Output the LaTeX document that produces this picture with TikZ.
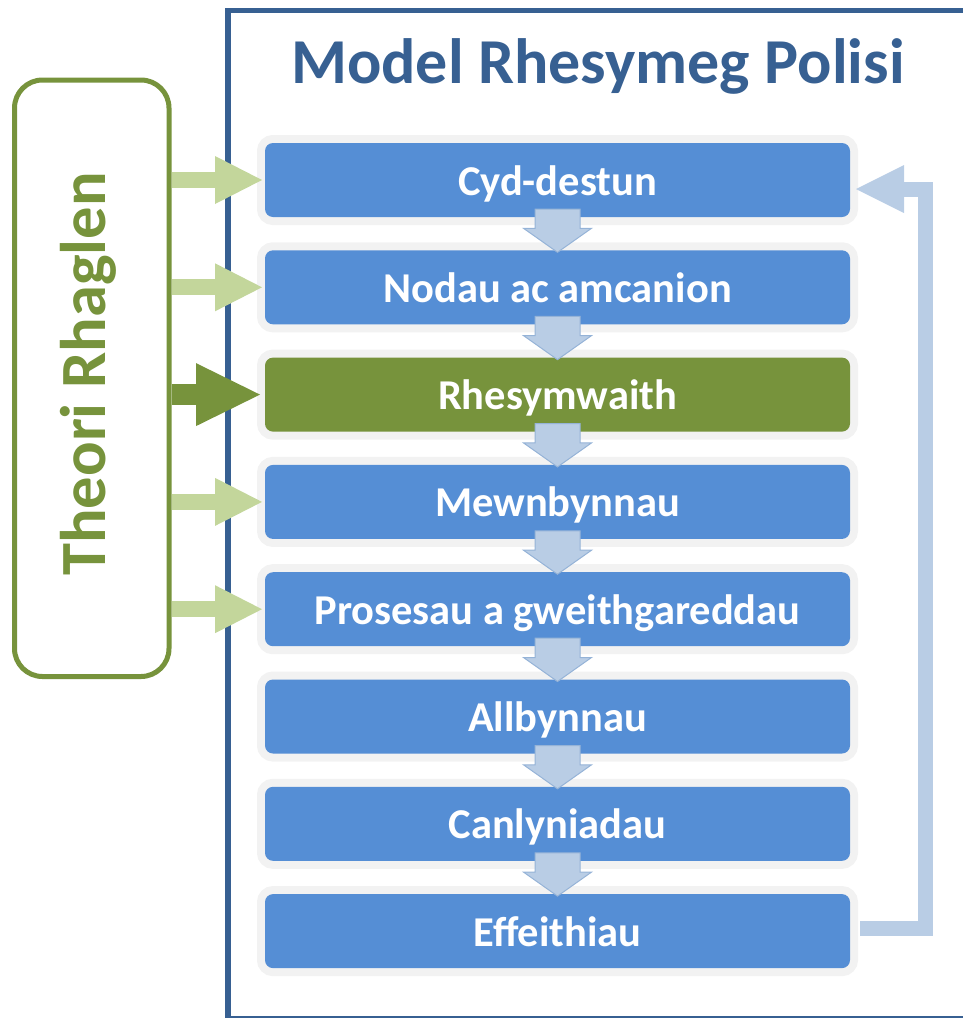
\documentclass[tikz,border=0pt]{standalone}
\usepackage{fontspec}
\setmainfont{Carlito}
\usetikzlibrary{arrows.meta,calc}

\definecolor{frameblue}{HTML}{376092}
\definecolor{stageblue}{HTML}{558ED5}
\definecolor{stagegreen}{HTML}{77933C}
\definecolor{feedgreen}{HTML}{C3D69B}
\definecolor{stagerim}{HTML}{F2F2F2}
\definecolor{flowfill}{HTML}{B9CDE5}
\definecolor{flowedge}{HTML}{95B3D7}

\begin{document}
\begin{tikzpicture}[x=1pt,y=-1pt]
\tikzset{ >=latex, inner sep=0pt, outer sep=0pt,
  stage/.style={fill=stageblue, rounded corners=8pt, minimum width=585pt, minimum height=74pt,
    preaction={draw=stagerim, line width=16pt, rounded corners=8pt},
    text height=30pt, text depth=0pt,
    text=white, font=\fontsize{42.5}{50}\selectfont\bfseries},
  feed/.style={line width=16pt, feedgreen, -{Triangle[length=47pt,width=48pt,line width=0pt]}},
  feedmain/.style={line width=21pt, stagegreen, -{Triangle[length=64pt,width=63pt,line width=0pt]}},
  stepdown/.style={fill=flowfill, draw=flowedge, line width=1pt, line join=miter,
    to path={let \p1=(\tikztostart), \p2=(\tikztotarget) in
      (\x1-22.5pt,\y1) -- (\x1-22.5pt,\y2+24pt) -- (\x1-34pt,\y2+24pt) -- (\x1,\y2)
      -- (\x1+34pt,\y2+24pt) -- (\x1+22.5pt,\y2+24pt) -- (\x1+22.5pt,\y1) -- cycle}},
  loopback/.style={line width=15pt, flowfill, line join=miter,
    -{Triangle[length=48pt,width=48pt,line width=0pt]}},
}

\useasboundingbox (0,0) rectangle (962,1018);

%\draw [lightgray, dashed](0,0) grid[step=100] (962,1018);

\draw [frameblue, line width=5.5pt] (975,10.5) -- (228,10.5) -- (228,1018.5) -- (975,1018.5);

\node [text=frameblue, font=\fontsize{64}{76}\selectfont\bfseries] (title) at (598,66) {Model Rhesymeg Polisi};

\node [draw=stagegreen, line width=5pt, outer sep=2.5pt, rounded corners=28pt,
       minimum width=154.5pt, minimum height=596.5pt] (theory) at (91.75,378.25) {};
\node [rotate=90, text=stagegreen, font=\fontsize{64.5}{76}\selectfont\bfseries] (theorytext) at (88,374) {Theori Rhaglen};

\node [stage] (ctx)       at (557.5,180.0) {Cyd-destun};
\node [stage] (aims)      at (557.5,287.3) {Nodau ac amcanion};
\node [stage, fill=stagegreen] (rationale) at (557.5,394.6) {Rhesymwaith};
\node [stage] (inputs)    at (557.5,501.9) {Mewnbynnau};
\node [stage] (process)   at (557.5,609.2) {Prosesau a gweithgareddau};
\node [stage] (outputs)   at (557.5,716.5) {Allbynnau};
\node [stage] (outcomes)  at (557.5,823.8) {Canlyniadau};
\node [stage] (impacts)   at (557.5,931.1) {Effeithiau};

\foreach \a/\b in {ctx/aims, aims/rationale, rationale/inputs, inputs/process,
                   process/outputs, outputs/outcomes, outcomes/impacts}
  \draw [stepdown] ([yshift=8pt]\a.south) to ([yshift=-2pt]\b.north);

\foreach \b in {ctx, aims, inputs, process}
  \draw [feed] (theory.east |- \b.west) -- ([xshift=-3pt]\b.west);
\draw [feedmain] (theory.east |- rationale.west) -- ([xshift=-5pt]rationale.west);

\draw [loopback] ([xshift=10pt,yshift=2.5pt]impacts.east) -- ++(65.5pt,0) |- ([xshift=6pt,yshift=-9pt]ctx.east);

\end{tikzpicture}
\end{document}
